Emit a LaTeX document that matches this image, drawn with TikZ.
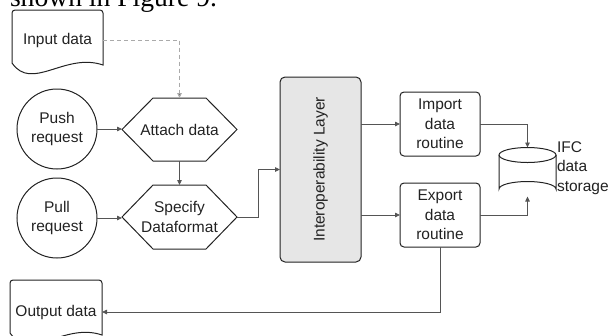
\documentclass[tikz,border=0pt]{standalone}
\usepackage{fontspec}
\setmainfont{Liberation Sans}
\newfontfamily\capfont{Liberation Serif}
\usetikzlibrary{arrows.meta}
\definecolor{shapeline}{HTML}{222222}
\definecolor{conn}{HTML}{555555}
\definecolor{dashc}{HTML}{AAAAAA}
\definecolor{layerfill}{HTML}{E6E6E6}
\begin{document}
\begin{tikzpicture}[x=1pt,y=-1pt,
  every node/.style={font=\fontsize{15.5}{19.5}\selectfont, text=shapeline, inner sep=0pt, outer sep=0pt},
  shp/.style={draw=shapeline, line width=1pt},
  circ/.style={shp, circle, minimum size=80pt, align=center},
  hexbox/.style={rectangle, minimum width=115pt, align=center},
  rbox/.style={shp, rectangle, rounded corners=4pt, minimum width=80pt, minimum height=64pt, align=center},
  conn/.style={draw=conn, line width=0.8pt, -{Triangle[length=5pt,width=4.5pt]}},
  dashconn/.style={draw=dashc, line width=1pt, dash pattern=on 4pt off 3pt, -{Triangle[length=5pt,width=4.5pt,fill=conn]}}
]
\useasboundingbox (0,0) rectangle (608,335);
\clip (0,0) rectangle (608,335);

% caption fragment
\node[anchor=base west, font=\capfont\fontsize{27.6}{30}\selectfont, text=black] (cap) at (10,6.5) {shown in Figure 9.};

% input document
\draw[shp] (12,63) [rounded corners=3pt] -- (12,10) -- (103,10) [sharp corners] -- (103,65) .. controls (65,52) and (32,92) .. (12,63) -- cycle;
\node[minimum width=91pt] (indoc) at (57.5,40) {Input data};

% output document
\draw[shp] (10,333) [rounded corners=3pt] -- (10,280) -- (102,280) [sharp corners] -- (102,335) .. controls (64,322) and (31,362) .. (10,333) -- cycle;
\node[minimum width=92pt] (outdoc) at (56,312) {Output data};

% circles
\node[circ] (push) at (57,129) {Push\\request};
\node[circ] (pull) at (57,218) {Pull\\request};

% hexagons
\node[hexbox, minimum height=63pt] (attach) at (179.5,129.5) {Attach data};
\node[hexbox, minimum height=64pt] (spec) at (179.5,217) {Specify\\Dataformat};
\foreach \h in {attach,spec}{
  \draw[shp] (\h.west) -- ([xshift=31pt]\h.north west) -- ([xshift=-31pt]\h.north east) -- (\h.east) -- ([xshift=-31pt]\h.south east) -- ([xshift=31pt]\h.south west) -- cycle;
}

% interoperability layer
\node[shp, rectangle, rounded corners=5pt, fill=layerfill, minimum width=81pt, minimum height=185pt] (layer) at (320.5,169.5) {};
\node[rotate=90] (layertxt) at (layer.center) {Interoperability Layer};

% routines
\node[rbox] (import) at (440,124) {Import\\data\\routine};
\node[rbox] (export) at (440,215) {Export\\data\\routine};

% storage cylinder
\node[rectangle, minimum width=57pt, minimum height=49pt] (db) at (527.5,172) {};
\draw[shp] (499,155) -- (499,189) arc[start angle=180, end angle=360, x radius=28.5pt, y radius=-7.5pt] -- (556,155);
\draw[shp] (527.5,155) ellipse [x radius=28.5pt, y radius=7.5pt];
\node[anchor=west, align=left] (dblabel) at (557,168) {IFC\\data\\storage};

% connectors
\draw[dashconn] (indoc.east) -| (attach.north);
\draw[conn] (push.east) -- (push.east -| attach.west);
\draw[conn] (pull.east) -- (pull.east -| spec.west);
\draw[conn] (attach.south) -- (spec.north);
\draw[conn] (spec.east) -- ++(21,0) |- (layer.west);
\draw[conn] (layer.east |- import.west) -- (import.west);
\draw[conn] (layer.east |- export.west) -- (export.west);
\draw[conn] (import.east) -| (db.north);
\draw[conn] (export.east) -| (db.south);
\draw[conn] (export.south) |- (outdoc.east);
\end{tikzpicture}
\end{document}
